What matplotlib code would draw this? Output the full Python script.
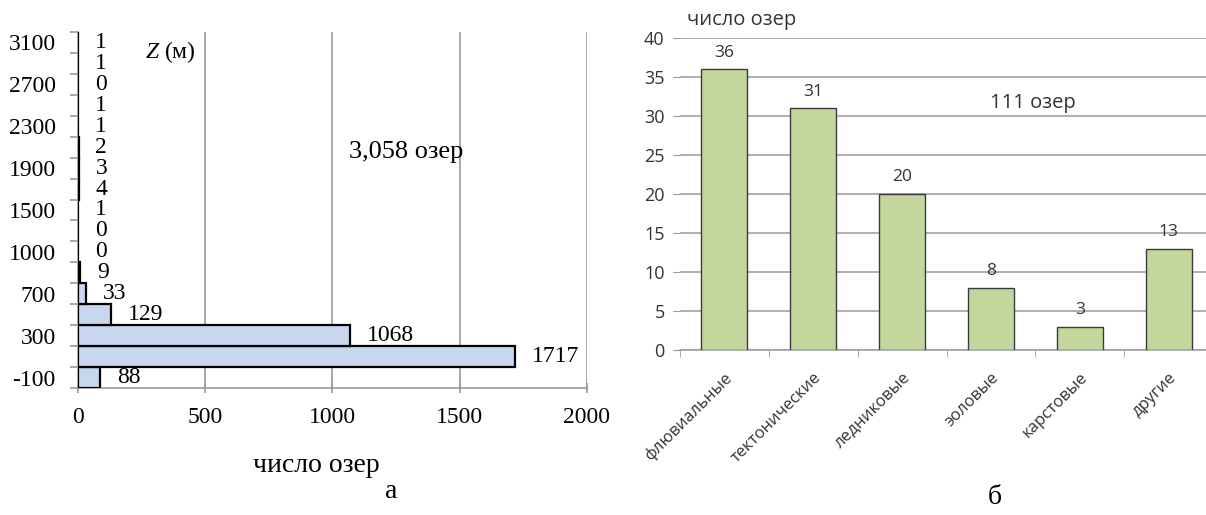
import numpy as np
import matplotlib
matplotlib.use('Agg')
import matplotlib.pyplot as plt
from matplotlib.ticker import FixedLocator

# lakes by elevation band (bottom to top)
elev_labels = ['-100', '', '300', '', '700', '', '1000', '', '1500', '',
               '1900', '', '2300', '', '2700', '', '3100']
elev_counts = [88, 1717, 1068, 129, 33, 9, 0, 0, 1, 4, 3, 2, 1, 1, 0, 1, 1]

# lakes by origin
origin_names = ['флювиальные', 'тектонические', 'ледниковые', 'эоловые', 'карстовые', 'другие']
origin_counts = [36, 31, 20, 8, 3, 13]

grid_gray = '#9a9a9a'
serif = 'Liberation Serif'
sans = 'Open Sans'
plt.rcParams['mathtext.fontset'] = 'custom'
plt.rcParams['mathtext.it'] = 'Liberation Serif:italic'
plt.rcParams['mathtext.rm'] = 'Liberation Serif'

fig = plt.figure(figsize=(12.06, 5.15), dpi=100)

# ---- panel a: horizontal histogram ----
ax1 = fig.add_axes([0.0647, 0.2466, 0.4220, 0.6913])
y = np.arange(len(elev_counts))
ax1.barh(y, elev_counts, height=1.0, color='#c6d7ee', edgecolor='black', linewidth=1.6, zorder=3)
for yi, v in zip(y, elev_counts):
    ax1.annotate(str(v), (v, yi), xytext=(12, 0), textcoords='offset points',
                 ha='left', va='center', fontsize=17, family=serif, zorder=4)

ax1.set_xlim(0, 2000)
ax1.set_ylim(-0.5, len(elev_counts) - 0.5)
ax1.set_xticks([0, 500, 1000, 1500, 2000])
ax1.set_xticklabels(['0', '500', '1000', '1500', '2000'], family=serif, fontsize=17)
ax1.set_yticks(y)
ax1.set_yticklabels(elev_labels, family=serif, fontsize=17)
ax1.yaxis.set_minor_locator(FixedLocator(np.arange(-0.5, len(elev_counts), 1.0)))
ax1.tick_params(axis='y', which='major', length=0, pad=16)
ax1.tick_params(axis='y', which='minor', length=6, color=grid_gray, width=1.2)
ax1.tick_params(axis='x', length=7, color=grid_gray, width=1.2, pad=10, direction='inout')
ax1.grid(axis='x', color=grid_gray, linewidth=1.2, zorder=0)
for s in ['top', 'right']:
    ax1.spines[s].set_visible(False)
for s in ['left', 'bottom']:
    ax1.spines[s].set_color(grid_gray)
    ax1.spines[s].set_linewidth(1.2)

ax1.text(362, 15.55, '$Z$ (м)', family=serif, fontsize=17, ha='center', va='center')
ax1.text(1289, 10.77, '3,058 озер', family=serif, fontsize=19, ha='center', va='center')
fig.text(316 / 1206, 1 - 465 / 515, 'число озер', family=serif, fontsize=20, ha='center', va='center')
fig.text(391 / 1206, 1 - 492 / 515, 'а', family=serif, fontsize=20, ha='center', va='center')

# ---- panel б: bars by lake origin ----
ax2 = fig.add_axes([0.5638, 0.3204, 0.4362, 0.6058])
x = np.arange(len(origin_counts))
ax2.bar(x, origin_counts, width=0.52, color='#c3d69b', edgecolor='#3a3a3a', linewidth=1.0, zorder=3)
for xi, v in zip(x, origin_counts):
    ax2.annotate(str(v), (xi, v), xytext=(0, 12), textcoords='offset points',
                 ha='center', va='center', fontsize=12.5, family=sans, color='#333333')

ax2.set_xlim(-0.5, 5.42)
ax2.set_ylim(0, 40)
ax2.set_yticks(range(0, 41, 5))
ax2.set_yticklabels([str(t) for t in range(0, 41, 5)], family=sans, fontsize=13, color='#333333')
ax2.set_xticks(x)
ax2.set_xticklabels(origin_names, rotation=45, ha='right', rotation_mode='anchor',
                    family=sans, fontsize=12, color='#333333')
ax2.xaxis.set_minor_locator(FixedLocator(np.arange(-0.5, len(origin_counts), 1.0)))
ax2.tick_params(axis='x', which='major', length=0, pad=14)
ax2.tick_params(axis='x', which='minor', length=5, color=grid_gray)
ax2.tick_params(axis='y', length=5, color=grid_gray, pad=6)
ax2.grid(axis='y', color=grid_gray, linewidth=1.1, zorder=0)
for s in ['top', 'right', 'left']:
    ax2.spines[s].set_visible(False)
ax2.spines['bottom'].set_color(grid_gray)
ax2.spines['bottom'].set_linewidth(1.1)

ax2.text(3.47, 31.7, '111 озер', family=sans, fontsize=14.5, ha='center', va='center', color='#333333')
fig.text(742 / 1206, 1 - 20 / 515, 'число озер', family=sans, fontsize=14.5, ha='center', va='center', color='#333333')
fig.text(995 / 1206, 1 - 497 / 515, 'б', family=serif, fontsize=20, ha='center', va='center')

fig.savefig('out.png', dpi=100)
